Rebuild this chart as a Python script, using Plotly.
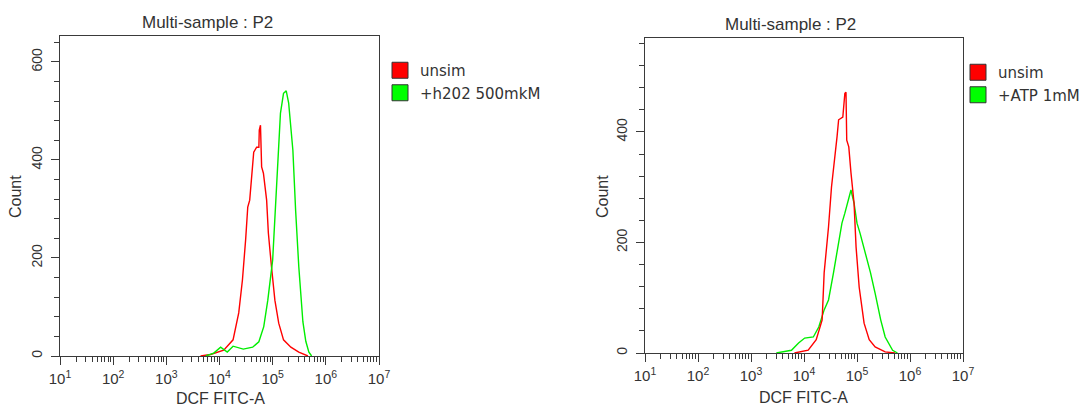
import plotly.graph_objects as go

# ---- data ----
left_red_x = [4.4e3, 6.8e3, 1.2e4, 1.8e4, 2.3e4, 2.7e4, 3.1e4, 3.4e4, 3.7e4, 4.0e4, 4.4e4, 5.0e4,
              5.5e4, 5.6e4, 5.9e4, 6.2e4, 6.7e4, 7.7e4, 8.3e4, 9.5e4, 1.1e5, 1.3e5, 1.6e5, 2.2e5,
              3.1e5, 4.6e5]
left_red_y = [0, 3, 12, 33, 88, 155, 237, 304, 318, 359, 416, 426,
              426, 461, 471, 386, 373, 318, 251, 182, 114, 67, 33, 18,
              8, 0]

left_green_x = [5.5e3, 7.8e3, 1.05e4, 1.4e4, 1.8e4, 2.8e4, 4.2e4, 5.5e4, 6.8e4, 8.1e4, 1.0e5,
                1.14e5, 1.3e5, 1.4e5, 1.6e5, 1.8e5, 2.0e5, 2.4e5, 2.7e5, 3.1e5, 3.7e5, 4.2e5,
                4.8e5, 5.4e5]
left_green_y = [0, 6, 18, 8, 20, 14, 18, 29, 60, 114, 196,
                318, 434, 495, 536, 541, 516, 420, 298, 182, 70, 30,
                8, 0]

right_red_x = [6.6e3, 1.2e4, 1.7e4, 2.2e4, 2.4e4, 2.9e4, 3.3e4, 3.8e4, 4.2e4, 4.5e4, 5.4e4, 5.9e4,
               6.2e4, 6.4e4, 7.0e4, 7.7e4, 8.8e4, 9.6e4, 1.1e5, 1.36e5, 1.7e5, 2.2e5, 3.4e5, 5.2e5]
right_red_y = [0, 5, 24, 60, 145, 228, 300, 349, 391, 422, 427, 470,
               472, 385, 373, 326, 271, 192, 119, 54, 24, 11, 2, 0]

right_green_x = [3.0e3, 5.8e3, 7.9e3, 1.03e4, 1.5e4, 1.9e4, 2.4e4, 2.9e4, 3.6e4, 4.3e4, 5.2e4,
                 5.9e4, 7.0e4, 7.7e4, 8.8e4, 1.0e5, 1.14e5, 1.4e5, 1.8e5, 2.2e5, 2.8e5, 3.4e5,
                 4.7e5, 5.8e5]
right_green_y = [0, 5, 18, 27, 29, 47, 78, 96, 145, 192, 235,
                 253, 277, 295, 271, 235, 217, 186, 145, 108, 60, 29,
                 5, 0]

decades = [1e1, 1e2, 1e3, 1e4, 1e5, 1e6, 1e7]
decade_labels = ["10<sup>1</sup>", "10<sup>2</sup>", "10<sup>3</sup>", "10<sup>4</sup>",
                 "10<sup>5</sup>", "10<sup>6</sup>", "10<sup>7</sup>"]
y_ticks_left = [0, 200, 400, 600]
y_ticks_right = [0, 200, 400]

panel_title = "Multi-sample : P2"
x_title = "DCF FITC-A"
y_title = "Count"
left_names = ["unsim", "+h202 500mkM"]
right_names = ["unsim", "+ATP 1mM"]

RED = "#ff0000"
GREEN = "#00ee00"
GREEN_LEG = "#00ff00"
FONT = "Liberation Sans, Arial, sans-serif"
LEGFONT = "DejaVu Sans, Verdana, sans-serif"
TXT = "#333333"
AX = "#3a3a3a"

minor_vals = [m * d for d in decades[:-1] for m in range(2, 10)]

fig = go.Figure()

line_w = 1.4
fig.add_trace(go.Scatter(x=left_red_x, y=left_red_y, mode="lines", line=dict(color=RED, width=line_w),
                         xaxis="x", yaxis="y", showlegend=False))
fig.add_trace(go.Scatter(x=left_green_x, y=left_green_y, mode="lines", line=dict(color=GREEN, width=line_w),
                         xaxis="x", yaxis="y", showlegend=False))
fig.add_trace(go.Scatter(x=right_green_x, y=right_green_y, mode="lines", line=dict(color=GREEN, width=line_w),
                         xaxis="x2", yaxis="y2", showlegend=False))
fig.add_trace(go.Scatter(x=right_red_x, y=right_red_y, mode="lines", line=dict(color=RED, width=line_w),
                         xaxis="x2", yaxis="y2", showlegend=False))

# legend entries (square swatches)
for name, col, leg, ax in [(left_names[0], RED, "legend", ("x", "y")),
                           (left_names[1], GREEN_LEG, "legend", ("x", "y")),
                           (right_names[0], RED, "legend2", ("x2", "y2")),
                           (right_names[1], GREEN_LEG, "legend2", ("x2", "y2"))]:
    fig.add_trace(go.Scatter(x=[None], y=[None], mode="markers", name=name,
                             marker=dict(symbol="square", size=16, color=col,
                                         line=dict(color="#333333", width=1)),
                             xaxis=ax[0], yaxis=ax[1], legend=leg, showlegend=True))

# page body has an 8px margin: layout coordinates below are screen pixels minus 8
W, H = 1088, 408
OFF = 8
Lx0, Lx1, Ly0, Ly1 = 60 - OFF, 379 - OFF, 36 - OFF, 356 - OFF
Rx0, Rx1, Ry0, Ry1 = 645 - OFF, 963 - OFF, 38 - OFF, 353 - OFF


def xaxis_cfg(x0, x1, anchor):
    return dict(type="log", range=[1, 7], domain=[x0 / W, x1 / W], anchor=anchor,
                tickmode="array", tickvals=decades, ticktext=decade_labels,
                ticks="outside", ticklen=8, tickwidth=1, tickcolor=AX,
                minor=dict(tickmode="array", tickvals=minor_vals, ticks="outside",
                           ticklen=5, tickwidth=1, tickcolor=AX),
                showline=True, linecolor=AX, linewidth=1, mirror=True,
                showgrid=False, zeroline=False, ticklabelstandoff=1,
                tickfont=dict(family=FONT, size=15, color=TXT))


def yaxis_cfg(y0, y1, top, ticks, anchor):
    return dict(range=[0, top], domain=[1 - y1 / H, 1 - y0 / H], anchor=anchor,
                tickmode="array", tickvals=ticks, tickangle=-90,
                ticks="outside", ticklen=8, tickwidth=1, tickcolor=AX,
                minor=dict(dtick=40, tick0=0, ticks="outside", ticklen=5, tickwidth=1, tickcolor=AX),
                showline=True, linecolor=AX, linewidth=1, mirror=True,
                showgrid=False, zeroline=False, ticklabelstandoff=3,
                tickfont=dict(family=FONT, size=14, color=TXT))


fig.update_layout(
    width=W, height=H,
    margin=dict(l=0, r=0, t=0, b=0, autoexpand=False),
    paper_bgcolor="white", plot_bgcolor="white",
    xaxis=xaxis_cfg(Lx0, Lx1, "y"),
    yaxis=yaxis_cfg(Ly0, Ly1, 653, y_ticks_left, "x"),
    xaxis2=xaxis_cfg(Rx0, Rx1, "y2"),
    yaxis2=yaxis_cfg(Ry0, Ry1, 570, y_ticks_right, "x2"),
    legend=dict(x=(380 - OFF) / W, y=1 - (54 - OFF) / H, xanchor="left", yanchor="top",
                font=dict(family=LEGFONT, size=15, color=TXT), bgcolor="rgba(0,0,0,0)",
                itemsizing="trace", tracegroupgap=0),
    legend2=dict(x=(958 - OFF) / W, y=1 - (56 - OFF) / H, xanchor="left", yanchor="top",
                 font=dict(family=LEGFONT, size=15, color=TXT), bgcolor="rgba(0,0,0,0)",
                 itemsizing="trace", tracegroupgap=0),
    showlegend=True,
)

annots = [
    (207, 23, panel_title, 0, 17),
    (790, 25, panel_title, 0, 17),
    (220, 398, x_title, 0, 16),
    (803, 397, x_title, 0, 16),
    (15, 197, y_title, -90, 16),
    (602, 197, y_title, -90, 16),
]
for ax_, ay_, t, ang, sz in annots:
    fig.add_annotation(x=(ax_ - OFF) / W, y=1 - (ay_ - OFF) / H, xref="paper", yref="paper", text=t,
                       showarrow=False, textangle=ang, xanchor="center", yanchor="middle",
                       font=dict(family=FONT, size=sz, color=TXT))

fig.write_html("out.html")
